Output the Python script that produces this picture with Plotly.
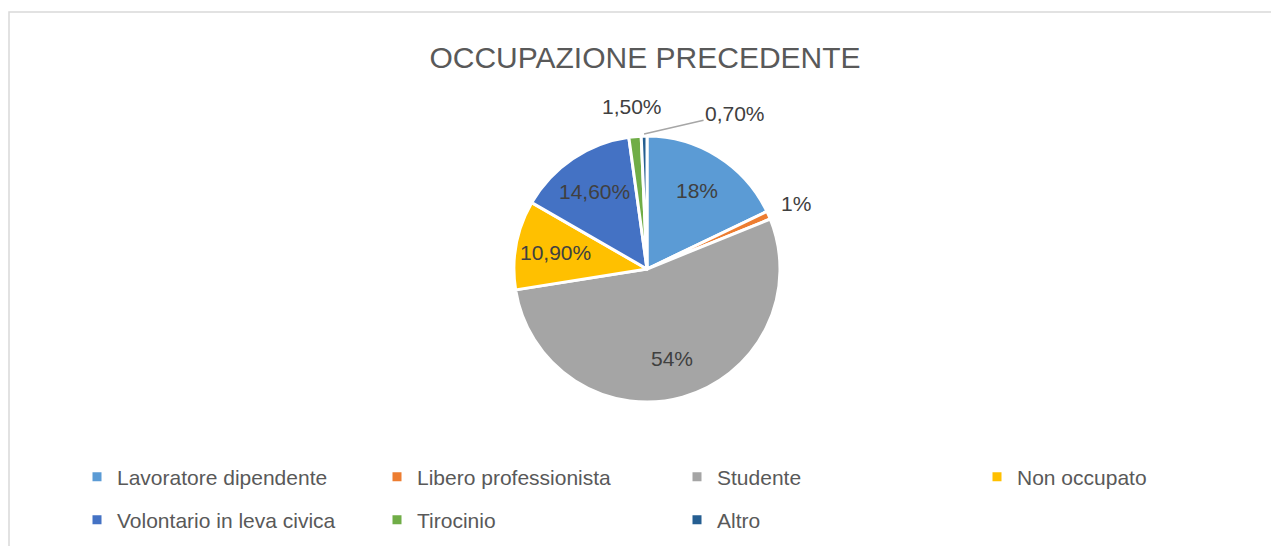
import math
import plotly.graph_objects as go

categories = ["Lavoratore dipendente", "Libero professionista", "Studente", "Non occupato",
              "Volontario in leva civica", "Tirocinio", "Altro"]
values = [18, 1, 54, 10.9, 14.6, 1.5, 0.7]
label_texts = ["18%", "1%", "54%", "10,90%", "14,60%", "1,50%", "0,70%"]
colors = ["#5B9BD5", "#ED7D31", "#A5A5A5", "#FFC000", "#4472C4", "#70AD47", "#255E91"]
inside = [True, False, True, True, True, False, False]

W, H = 1279, 546
OFF = 8  # page body margin of the browser
cx, cy, r = 647 - OFF, 269 - OFF, 133
FONT = "Liberation Sans"


def px(x):
    return x / W


def py(y):
    return (H - y) / H


fig = go.Figure()
fig.add_trace(go.Pie(
    labels=categories, values=values, textinfo="none",
    sort=False, direction="clockwise", rotation=0,
    marker=dict(colors=colors, line=dict(color="white", width=3)),
    domain=dict(x=[px(cx - r), px(cx + r)], y=[py(cy + r), py(cy - r)]),
    showlegend=False, hoverinfo="label+percent",
))

# legend proxies (two rows, like the original)
for i, (name, col) in enumerate(zip(categories, colors)):
    fig.add_trace(go.Scatter(x=[None], y=[None], mode="markers", name=name,
                             marker=dict(symbol="square", size=9, color=col),
                             legend="legend" if i < 4 else "legend2", hoverinfo="skip"))

# data labels placed from the slice mid-angles
total = sum(values)
annotations = []
cum = 0.0
lab_font = dict(family=FONT, size=21, color="#404040")
for i, v in enumerate(values):
    mid = (cum + v / 2) / total * 2 * math.pi
    cum += v
    if inside[i]:
        d = 0.7 * r
        lx, ly = cx + d * math.sin(mid), cy - d * math.cos(mid)
        annotations.append(dict(x=px(lx), y=py(ly), xref="paper", yref="paper", text=label_texts[i],
                                showarrow=False, xanchor="center", yanchor="middle", font=lab_font))
    elif label_texts[i] == "0,70%":
        ex, ey = cx + (r + 2) * math.sin(mid), cy - (r + 2) * math.cos(mid)
        annotations.append(dict(x=px(ex), y=py(ey), xref="paper", yref="paper",
                                text=label_texts[i], showarrow=True, arrowhead=0, arrowwidth=1.5,
                                arrowcolor="#A6A6A6", ax=91, ay=-21, standoff=0, font=lab_font))
    else:
        d = r + 30
        lx, ly = cx + d * math.sin(mid), cy - d * math.cos(mid)
        annotations.append(dict(x=px(lx), y=py(ly), xref="paper", yref="paper", text=label_texts[i],
                                showarrow=False, xanchor="center", yanchor="middle", font=lab_font))

leg_common = dict(orientation="h", xanchor="left", yanchor="middle",
                  entrywidth=255, entrywidthmode="pixels",
                  font=dict(family=FONT, size=21, color="#595959"),
                  traceorder="normal", bgcolor="rgba(0,0,0,0)")

fig.update_layout(
    width=W, height=H, margin=dict(l=0, r=0, t=0, b=0),
    paper_bgcolor="white", plot_bgcolor="white",
    xaxis=dict(visible=False), yaxis=dict(visible=False),
    title=dict(text="OCCUPAZIONE PRECEDENTE", x=px(645 - OFF), xanchor="center", y=py(57 - OFF),
               yanchor="middle", font=dict(family=FONT, size=30, color="#595959")),
    legend=dict(x=px(69), y=py(477 - OFF), **leg_common),
    legend2=dict(x=px(69), y=py(520 - OFF), **leg_common),
    annotations=annotations,
    shapes=[dict(type="rect", xref="paper", yref="paper", x0=px(1), x1=1.05,
                 y0=-0.05, y1=py(12 - OFF),
                 line=dict(color="#D9D9D9", width=1.5), fillcolor="rgba(0,0,0,0)")],
)

fig.write_html("out.html")
